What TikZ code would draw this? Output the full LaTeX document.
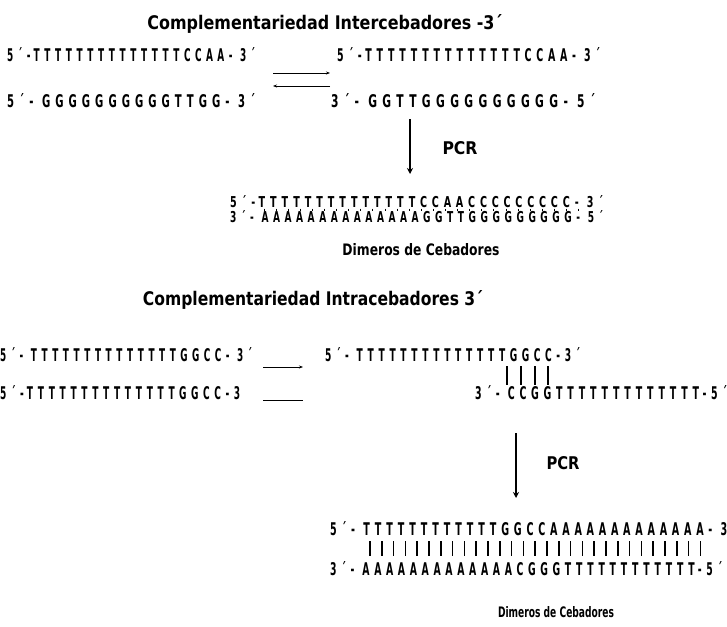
\documentclass[tikz,border=0pt]{standalone}
\usepackage{fontspec}
\usepackage{graphicx}
\usetikzlibrary{arrows.meta}
\setmainfont{DejaVu Sans}
\newfontfamily\seqf[LetterSpace=50]{DejaVu Sans}
\newfontfamily\titf{DejaVu Sans}
\newcommand\seqbox[3]{\resizebox{#1pt}{#2pt}{\seqf\bfseries #3}}
\newcommand\titbox[3]{\resizebox{#1pt}{#2pt}{\titf\bfseries #3}}
\tikzset{
  seq/.style={anchor=west, inner sep=0pt},
  lbl/.style={inner sep=0pt},
  eqarrow/.style={line width=0.9pt, -{Stealth[length=4pt,width=3pt]}},
  bigarrow/.style={line width=2.6pt, -{Stealth[length=6pt,width=6pt]}},
  pair/.style={line width=1pt},
  pairthick/.style={line width=1.6pt}
}
\begin{document}
\begin{tikzpicture}[x=1pt,y=-1pt]
\path[use as bounding box] (0,0) rectangle (727,626);
% ---------- Inter ----------
\node[lbl] (t1) at (325,24) {\titbox{355}{15}{Complementariedad Intercebadores -3´}};
\node[seq] (r1l) at (7,55) {\seqbox{248}{14}{5´-TTTTTTTTTTTTTTCCAA- 3´}};
\node[seq] (r1r) at (337,55) {\seqbox{263}{14}{5´-TTTTTTTTTTTTTTCCAA- 3´}};
\node[seq] (r2l) at (7,101) {\seqbox{248}{14}{5´- GGGGGGGGGGTTGG- 3´}};
\node[seq] (r2r) at (331,101) {\seqbox{264}{14}{3´- GGTTGGGGGGGGGG- 5´}};
\coordinate (ea1) at (273,73); \coordinate (eb1) at (330,73);
\coordinate (ea2) at (330,86); \coordinate (eb2) at (273,86);
\draw[eqarrow] (ea1) -- (eb1);
\draw[eqarrow] (ea2) -- (eb2);
\coordinate (v1a) at (410,119); \coordinate (v1b) at (410,174);
\draw[bigarrow] (v1a) -- (v1b);
\node[lbl] (pcr1) at (460,148) {\titbox{35}{13}{PCR}};
\node[seq] (d1t) at (230,202) {\seqbox{373}{12}{5´-TTTTTTTTTTTTTTCCAACCCCCCCCC- 3´}};
\node[seq] (d1b) at (230,217) {\seqbox{373}{12}{3´- AAAAAAAAAAAAAAGGTTGGGGGGGGG- 5´}};
\foreach \i in {0,...,26} {
  \draw[pair] ({264+\i*12.1},208.5) -- ({264+\i*12.1},211);
}
\node[lbl] (dim1) at (421,250) {\titbox{157}{12}{Dimeros de Cebadores}};
% ---------- Intra ----------
\node[lbl] (t2) at (313,300) {\titbox{340}{15}{Complementariedad Intracebadores 3´}};
\node[seq] (r3l) at (0,355) {\seqbox{252}{14}{5´- TTTTTTTTTTTTTTGGCC- 3´}};
\node[seq] (r3r) at (325,355) {\seqbox{255}{14}{5´- TTTTTTTTTTTTTTGGCC-3´}};
\node[seq] (r4l) at (0,393) {\seqbox{240}{14}{5´-TTTTTTTTTTTTTTGGCC-3}};
\node[seq] (r4r) at (475,393) {\seqbox{252}{14}{3´- CCGGTTTTTTTTTTTTT-5´}};
\coordinate (ha1) at (263,367); \coordinate (hb1) at (303,367);
\draw[eqarrow] (ha1) -- (hb1);
\coordinate (ha2) at (263,400); \coordinate (hb2) at (303,400);
\draw[line width=0.9pt] (ha2) -- (hb2);
\foreach \x in {507,521,535,548} {
  \draw[pairthick] (\x,366) -- (\x,385);
}
\coordinate (v2a) at (516,433); \coordinate (v2b) at (516,498);
\draw[bigarrow] (v2a) -- (v2b);
\node[lbl] (pcr2) at (563,463) {\titbox{33}{13}{PCR}};
\node[seq] (d2t) at (330,529) {\seqbox{397}{14}{5´- TTTTTTTTTTTTGGCCAAAAAAAAAAAAA- 3}};
\node[seq] (d2b) at (330,569) {\seqbox{392}{14}{3´- AAAAAAAAAAAAACGGGTTTTTTTTTTTT-5´}};
\foreach \i in {0,...,28} {
  \draw[pairthick] ({370+\i*11.8},541) -- ({370+\i*11.8},556);
}
\node[lbl] (dim2) at (556,612) {\titbox{116}{11}{Dimeros de Cebadores}};
\end{tikzpicture}
\end{document}
